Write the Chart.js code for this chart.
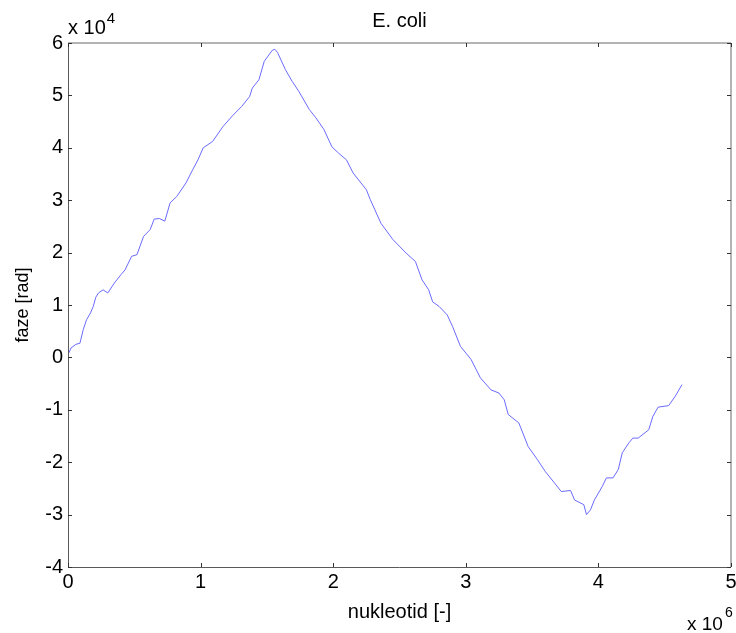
<!DOCTYPE html>
<html>
<head>
<meta charset="utf-8">
<script src="https://cdn.jsdelivr.net/npm/chart.js@4"></script>
<style>
  html, body { margin: 0; padding: 0; background: #fff; }
  #c { display: block; }
</style>
</head>
<body>
<canvas id="c" width="736" height="633"></canvas>
<script>
// nucleotide position (x), in units of 10^6
const nukleotidMega = [
  0.000, 0.023, 0.060, 0.090, 0.115, 0.140, 0.170, 0.190, 0.210, 0.230,
  0.265, 0.300, 0.350, 0.400, 0.430, 0.480, 0.520, 0.570, 0.620, 0.650,
  0.690, 0.730, 0.770, 0.820, 0.890, 0.940, 0.980, 1.020, 1.090, 1.170,
  1.240, 1.310, 1.370, 1.390, 1.440, 1.480, 1.540, 1.560, 1.580, 1.640,
  1.690, 1.740, 1.820, 1.870, 1.930, 1.990, 2.040, 2.100, 2.150, 2.250,
  2.280, 2.360, 2.450, 2.550, 2.620, 2.670, 2.720, 2.750, 2.800, 2.860,
  2.900, 2.960, 3.040, 3.110, 3.190, 3.250, 3.290, 3.320, 3.400, 3.470,
  3.540, 3.600, 3.670, 3.720, 3.790, 3.820, 3.890, 3.910, 3.940, 3.970,
  4.030, 4.060, 4.110, 4.150, 4.180, 4.230, 4.260, 4.300, 4.380, 4.410,
  4.450, 4.530, 4.580, 4.630
];
// phase (y), in units of 10^4 rad
const fazeX1e4 = [
  0.05, 0.18, 0.25, 0.27, 0.53, 0.72, 0.85, 0.97, 1.15, 1.23,
  1.29, 1.23, 1.42, 1.58, 1.67, 1.93, 1.96, 2.31, 2.44, 2.64,
  2.65, 2.60, 2.95, 3.07, 3.33, 3.58, 3.77, 4.00, 4.12, 4.41,
  4.61, 4.79, 4.98, 5.14, 5.30, 5.65, 5.86, 5.88, 5.82, 5.49,
  5.27, 5.08, 4.73, 4.57, 4.35, 4.02, 3.90, 3.77, 3.52, 3.20,
  3.01, 2.56, 2.25, 1.99, 1.83, 1.48, 1.29, 1.06, 0.97, 0.81,
  0.59, 0.21, -0.04, -0.39, -0.62, -0.68, -0.81, -1.09, -1.25, -1.70,
  -1.95, -2.18, -2.40, -2.56, -2.54, -2.72, -2.81, -3.00, -2.91, -2.72,
  -2.46, -2.30, -2.30, -2.14, -1.82, -1.63, -1.54, -1.54, -1.38, -1.13,
  -0.95, -0.92, -0.74, -0.52
];
const xTickValues = [0, 1, 2, 3, 4, 5];                     // x 10^6
const yTickValues = [-4, -3, -2, -1, 0, 1, 2, 3, 4, 5, 6];  // x 10^4

const X_SCALE = 1e6, Y_SCALE = 1e4;
const points = nukleotidMega.map((v, i) => ({ x: v * X_SCALE, y: fazeX1e4[i] * Y_SCALE }));

const FONT = "'Liberation Sans', Arial, Helvetica, sans-serif";

const framePlugin = {
  id: 'matlabFrame',
  afterDraw(chart) {
    const { ctx, chartArea: a, scales } = chart;
    ctx.save();
    // top and right lines (light)
    ctx.strokeStyle = '#b4b4b4';
    ctx.lineWidth = 2;
    ctx.beginPath();
    ctx.moveTo(a.left, a.top); ctx.lineTo(a.right, a.top);
    ctx.moveTo(a.right, a.top); ctx.lineTo(a.right, a.bottom);
    ctx.stroke();
    // left and bottom lines (dark)
    ctx.strokeStyle = '#5a5a5a';
    ctx.lineWidth = 1;
    ctx.beginPath();
    ctx.moveTo(a.left + 0.5, a.top); ctx.lineTo(a.left + 0.5, a.bottom + 0.5);
    ctx.lineTo(a.right, a.bottom + 0.5);
    ctx.stroke();
    // inward tick marks
    ctx.strokeStyle = '#333';
    ctx.beginPath();
    xTickValues.forEach(v => {
      const px = Math.round(scales.x.getPixelForValue(v * X_SCALE)) + 0.5;
      ctx.moveTo(px, a.bottom); ctx.lineTo(px, a.bottom - 4);
      ctx.moveTo(px, a.top); ctx.lineTo(px, a.top + 4);
    });
    yTickValues.forEach(v => {
      const py = Math.round(scales.y.getPixelForValue(v * Y_SCALE)) + 0.5;
      ctx.moveTo(a.left, py); ctx.lineTo(a.left + 4, py);
      ctx.moveTo(a.right, py); ctx.lineTo(a.right - 4, py);
    });
    ctx.stroke();
    // exponent labels
    ctx.fillStyle = '#000';
    ctx.textBaseline = 'alphabetic';
    ctx.textAlign = 'left';
    ctx.font = '20px ' + FONT;
    ctx.fillText('x 10', a.left, 34);
    let w = ctx.measureText('x 10').width;
    ctx.font = '15px ' + FONT;
    ctx.fillText('4', a.left + w + 1, 23);
    ctx.font = '19px ' + FONT;
    ctx.fillText('x 10', 687, 630);
    w = ctx.measureText('x 10').width;
    ctx.font = '14px ' + FONT;
    ctx.fillText('6', 687 + w + 2, 617);
    ctx.restore();
  }
};

new Chart(document.getElementById('c'), {
  type: 'scatter',
  data: {
    datasets: [{
      label: 'E. coli',
      data: points,
      showLine: true,
      borderColor: '#6a6aff',
      borderWidth: 1,
      pointRadius: 0,
      pointHoverRadius: 0,
      tension: 0,
      fill: false
    }]
  },
  options: {
    responsive: false,
    animation: false,
    devicePixelRatio: 1,
    events: [],
    layout: { padding: { top: 0, left: 0, right: 5, bottom: 0 } },
    plugins: {
      legend: { display: false },
      tooltip: { enabled: false },
      title: {
        display: true,
        fullSize: false,
        text: 'E. coli',
        color: '#000',
        font: { family: FONT, size: 20, weight: 'normal' },
        padding: { top: 9, bottom: 10 }
      }
    },
    scales: {
      x: {
        type: 'linear',
        min: 0, max: 5 * X_SCALE,
        afterBuildTicks: s => { s.ticks = xTickValues.map(v => ({ value: v * X_SCALE })); },
        ticks: {
          color: '#000',
          font: { family: FONT, size: 20 },
          padding: 3,
          maxRotation: 0,
          callback: v => String(v / X_SCALE)
        },
        grid: { display: false, drawTicks: false },
        border: { display: false },
        title: {
          display: true,
          text: 'nukleotid [-]',
          color: '#000',
          font: { family: FONT, size: 20 },
          padding: { top: 0, bottom: 9 }
        },
        afterFit: s => { s.height = 66; s.paddingLeft = 0; s.paddingRight = 0; }
      },
      y: {
        type: 'linear',
        min: -4 * Y_SCALE, max: 6 * Y_SCALE,
        afterBuildTicks: s => { s.ticks = yTickValues.map(v => ({ value: v * Y_SCALE })); },
        ticks: {
          color: '#000',
          font: { family: FONT, size: 20 },
          padding: 5,
          callback: v => String(v / Y_SCALE)
        },
        grid: { display: false, drawTicks: false },
        border: { display: false },
        title: {
          display: true,
          text: 'faze [rad]',
          color: '#000',
          font: { family: FONT, size: 18 },
          padding: { top: 12, bottom: 0 }
        },
        afterFit: s => { s.width = 68; s.paddingTop = 0; s.paddingBottom = 0; }
      }
    }
  },
  plugins: [framePlugin]
});
</script>
</body>
</html>
